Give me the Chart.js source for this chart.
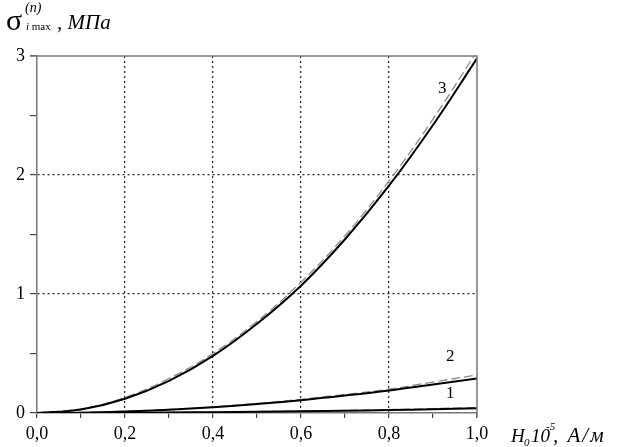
<!DOCTYPE html>
<html>
<head>
<meta charset="utf-8">
<script src="https://cdn.jsdelivr.net/npm/chart.js@4.4.0/dist/chart.umd.min.js"></script>
<style>
    html, body { margin: 0; padding: 0; background: #fff; }
    #wrap { position: relative; width: 622px; height: 447px; font-family: 'Liberation Serif', serif; color: #000; }
    #chart { position: absolute; left: 0; top: 0; }
    .t { position: absolute; white-space: nowrap; line-height: 1; }
    .it { font-style: italic; }
</style>
</head>
<body>
<div id="wrap">
    <canvas id="chart" width="622" height="447"></canvas>

    <!-- y axis title -->
    <span class="t" style="left:6px;top:5px;font-size:30px;">σ</span>
    <span class="t it" style="left:25px;top:1px;font-size:14px;">(n)</span>
    <span class="t it" style="left:26px;top:21px;font-size:11px;">i <span style="font-style:normal">max</span></span>
    <span class="t it" style="left:57px;top:12px;font-size:21px;">, МПа</span>

    <!-- x axis title -->
    <span class="t it" style="left:511px;top:426px;font-size:19px;">H</span>
    <span class="t it" style="left:524px;top:437px;font-size:11px;">0</span>
    <span class="t it" style="left:531px;top:426px;font-size:19px;">10</span>
    <span class="t it" style="left:546px;top:421px;font-size:11px;">-5</span>
    <span class="t it" style="left:553px;top:425px;font-size:21px;letter-spacing:2px;">, А/м</span>

    <!-- curve labels -->
    <span class="t" style="left:438px;top:79px;font-size:17px;">3</span>
    <span class="t" style="left:446px;top:347px;font-size:17px;">2</span>
    <span class="t" style="left:446px;top:384px;font-size:17px;">1</span>
</div>

<script>
const xValues = [0, 0.1, 0.2, 0.3, 0.4, 0.5, 0.6, 0.7, 0.8, 0.9, 1.0];

const curve3Solid = [0, 0.03, 0.12, 0.27, 0.48, 0.75, 1.07, 1.46, 1.91, 2.42, 2.98];
const curve3Dash  = [0, 0.035, 0.13, 0.29, 0.50, 0.77, 1.10, 1.49, 1.95, 2.47, 3.04];
const curve2Solid = [0, 0.003, 0.012, 0.027, 0.048, 0.075, 0.108, 0.147, 0.19, 0.24, 0.29];
const curve2Dash  = [0, 0.004, 0.014, 0.030, 0.052, 0.080, 0.115, 0.156, 0.20, 0.26, 0.32];
const curve1Solid = [0, 0.0005, 0.002, 0.004, 0.007, 0.010, 0.014, 0.019, 0.025, 0.032, 0.040];
const curve1Dash  = [0, 0.0006, 0.0025, 0.005, 0.008, 0.012, 0.016, 0.022, 0.029, 0.037, 0.046];

const xTickLabels = ['0,0', '0,2', '0,4', '0,6', '0,8', '1,0'];
const yTickLabels = ['0', '1', '2', '3'];

const TICK_FONT = { family: 'Liberation Serif', size: 18 };

function pts(ys) {
    return xValues.map((x, i) => ({ x, y: ys[i] }));
}

function solid(data) {
    return { data: pts(data), borderColor: '#000', borderWidth: 2, pointRadius: 0, tension: 0.4, order: 1 };
}

function dashed(data) {
    return { data: pts(data), borderColor: '#8a8a8a', borderWidth: 1.3, borderDash: [9, 4], pointRadius: 0, tension: 0.4, order: 2 };
}

// top and right edges of the plot box
const frame = {
    id: 'frame',
    afterDraw(chart) {
        const { ctx, chartArea: a } = chart;
        ctx.save();
        ctx.strokeStyle = '#777';
        ctx.lineWidth = 1.5;
        ctx.beginPath();
        ctx.moveTo(30, a.top);
        ctx.lineTo(a.right, a.top);
        ctx.lineTo(a.right, a.bottom + 4);
        ctx.stroke();
        ctx.restore();
    },
};

const gridDash = { dash: [2, 3], color: '#777', width: 1.5 };

new Chart(document.getElementById('chart'), {
    type: 'line',
    data: {
        datasets: [
            dashed(curve3Dash), solid(curve3Solid),
            dashed(curve2Dash), solid(curve2Solid),
            dashed(curve1Dash), solid(curve1Solid),
        ],
    },
    options: {
        responsive: false,
        animation: false,
        layout: { padding: { top: 56, right: 145, left: 0, bottom: 0 } },
        plugins: { legend: { display: false }, tooltip: { enabled: false } },
        scales: {
            x: {
                type: 'linear',
                min: 0,
                max: 1,
                afterFit: s => { s.height = 34; },
                border: gridDash,
                grid: {
                    color: c => {
                        const k = Math.round(c.tick.value * 10);
                        return (k > 0 && k < 10 && k % 2 === 0) ? '#222' : 'rgba(0,0,0,0)';
                    },
                    tickColor: '#444',
                    tickLength: 5,
                    lineWidth: 1.2,
                },
                ticks: {
                    stepSize: 0.1,
                    color: '#000',
                    font: TICK_FONT,
                    padding: 5,
                    maxRotation: 0,
                    autoSkip: false,
                    callback: v => {
                        const k = Math.round(v * 10);
                        return k % 2 === 0 ? xTickLabels[k / 2] : '';
                    },
                },
            },
            y: {
                min: 0,
                max: 3,
                afterFit: s => { s.width = 37; },
                border: gridDash,
                grid: {
                    color: c => {
                        const v = c.tick.value;
                        return (v === 1 || v === 2) ? '#222' : 'rgba(0,0,0,0)';
                    },
                    tickColor: '#444',
                    tickLength: 7,
                    lineWidth: 1.2,
                },
                ticks: {
                    stepSize: 0.5,
                    color: '#000',
                    font: TICK_FONT,
                    padding: 5,
                    autoSkip: false,
                    callback: v => Number.isInteger(v) ? yTickLabels[v] : '',
                },
            },
        },
    },
    plugins: [frame],
});
</script>
</body>
</html>
